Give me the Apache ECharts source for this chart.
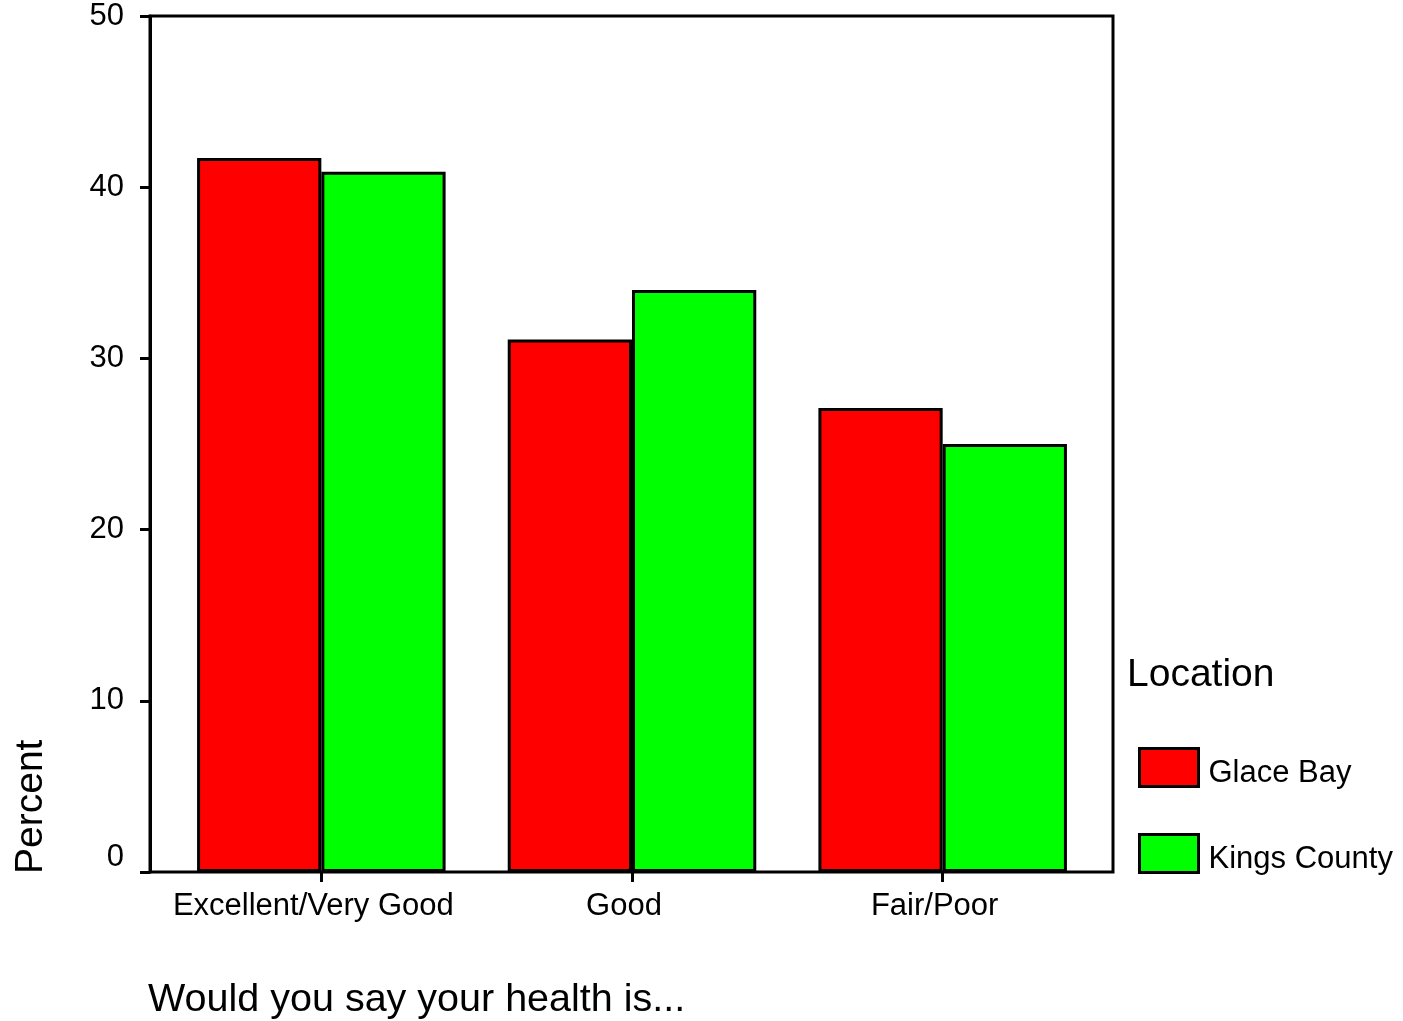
<!DOCTYPE html>
<html>
<head>
<meta charset="utf-8">
<script src="https://cdn.jsdelivr.net/npm/echarts@6/dist/echarts.min.js"></script>
<style>html,body{margin:0;padding:0;background:#fff;}#c{width:1403px;height:1021px;}</style>
</head>
<body>
<div id="c"></div>
<script>
const categories = ['Excellent/Very Good', 'Good', 'Fair/Poor'];
const glaceBay = [41.7, 31.1, 27.1];
const kingsCounty = [40.9, 34.0, 25.0];
const seriesNames = ['Glace Bay', 'Kings County'];
const yTicks = { min: 0, max: 50, interval: 10 };
const legendTitle = 'Location';
const yName = 'Percent';
const xName = 'Would you say your health is...';

const FONT = '"Liberation Sans", Arial, sans-serif';
const chart = echarts.init(document.getElementById('c'), null, { renderer: 'canvas' });
chart.setOption({
  backgroundColor: '#fff',
  animation: false,
  textStyle: { fontFamily: FONT, color: '#000' },
  grid: [
    { left: 166, top: 16, width: 932, height: 856, show: false },
    { left: 150, top: 16, width: 963, height: 856, show: true, borderColor: '#000', borderWidth: 3, backgroundColor: 'transparent' }
  ],
  xAxis: [
    { type: 'category', gridIndex: 0, data: categories,
      axisLine: { show: false },
      axisTick: { show: true, alignWithLabel: true, length: 10, lineStyle: { color: '#000', width: 3 } },
      axisLabel: { color: '#000', fontSize: 31, fontFamily: FONT, margin: 19, interval: 0, padding: [0, 16, 0, 0] },
      splitLine: { show: false } },
    { type: 'value', gridIndex: 1, show: false, min: 0, max: 1 }
  ],
  yAxis: [
    { type: 'value', gridIndex: 0, show: false, min: yTicks.min, max: yTicks.max, interval: yTicks.interval, splitLine: { show: false } },
    { type: 'value', gridIndex: 1, min: yTicks.min, max: yTicks.max, interval: yTicks.interval,
      axisLine: { show: true, lineStyle: { color: '#000', width: 3 } },
      axisTick: { show: true, length: 10, lineStyle: { color: '#000', width: 3 } },
      axisLabel: { color: '#000', fontSize: 31, fontFamily: FONT, margin: 26,
        formatter: v => v === 0 ? '{z|0}' : String(v),
        rich: { z: { fontSize: 31, fontFamily: FONT, color: '#000', padding: [0, 0, 30, 0] } } },
      splitLine: { show: false } }
  ],
  legend: {
    orient: 'vertical', left: 1138, top: 747, padding: 0,
    itemWidth: 59, itemHeight: 38, itemGap: 44, icon: 'rect',
    itemStyle: { borderColor: '#000', borderWidth: 3 },
    formatter: name => '{t|' + name + '}',
    textStyle: { fontSize: 31, fontFamily: FONT, color: '#000', padding: [0, 0, 0, 5],
      rich: { t: { fontSize: 31, fontFamily: FONT, color: '#000', padding: [12, 0, 0, 0] } } },
    data: seriesNames
  },
  series: [
    { name: seriesNames[0], type: 'bar', xAxisIndex: 0, yAxisIndex: 0, data: glaceBay,
      barGap: '0%', barCategoryGap: '20%',
      itemStyle: { color: '#ff0000', borderColor: '#000', borderWidth: 3 } },
    { name: seriesNames[1], type: 'bar', xAxisIndex: 0, yAxisIndex: 0, data: kingsCounty,
      barGap: '0%', barCategoryGap: '20%',
      itemStyle: { color: '#00ff00', borderColor: '#000', borderWidth: 3 } }
  ],
  graphic: [
    { type: 'text', x: 1127, y: 675,
      style: { text: legendTitle, fontSize: 39, fontFamily: FONT, fill: '#000', textAlign: 'left', textVerticalAlign: 'middle' } },
    { type: 'text', x: 148, y: 1000,
      style: { text: xName, fontSize: 39.5, fontFamily: FONT, fill: '#000', textAlign: 'left', textVerticalAlign: 'middle' } },
    { type: 'text', x: 31, y: 874, rotation: Math.PI / 2,
      style: { text: yName, fontSize: 39, fontFamily: FONT, fill: '#000', textAlign: 'left', textVerticalAlign: 'middle' } }
  ]
});
</script>
</body>
</html>
